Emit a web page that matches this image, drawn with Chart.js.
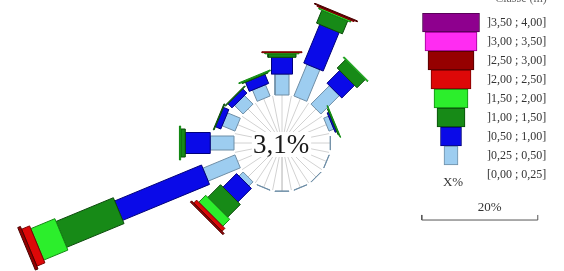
<!DOCTYPE html>
<html lang="fr">
<head>
    <meta charset="UTF-8">
    <title>Rose des hauteurs</title>
    <script src="https://cdn.jsdelivr.net/npm/chart.js"></script>
    <style>
        body { margin: 0; background: #fff; }
        #wrap { position: relative; width: 564px; height: 271px; }
        #rose { position: absolute; left: 0; top: 0; }
        #leg { position: absolute; left: 400px; top: 0; }
    </style>
</head>
<body>
<div id="wrap">
    <canvas id="rose" width="564" height="271"></canvas>
    <canvas id="leg" width="164" height="200"></canvas>
</div>
<script>
    // directions, clockwise from north
    const directions = ['N','NNE','NE','ENE','E','ESE','SE','SSE','S','SSW','SW','WSW','W','WNW','NW','NNW'];
    const calm = 3.1; // % in [0,00 ; 0,25]
    const calmLabel = '[0,00 ; 0,25]';
    const classLabels = [']0,25 ; 0,50]', ']0,50 ; 1,00]', ']1,00 ; 1,50]', ']1,50 ; 2,00]',
                         ']2,00 ; 2,50]', ']2,50 ; 3,00]', ']3,00 ; 3,50]', ']3,50 ; 4,00]'];

    // frequency (%) per direction for each class
    const h025_050 = [3.6, 5.9, 4.5, 0.9, 0.1, 0.05, 0.05, 0.05, 0.05, 0.05, 1.0, 6.0, 4.1, 2.4, 2.1, 2.1];
    const h050_100 = [2.9, 7.2, 3.1, 0.3, 0, 0, 0, 0, 0, 0, 3.3, 16.2, 4.3, 1.0, 1.0, 1.7];
    const h100_150 = [0.6, 2.4, 2.0, 0.15, 0, 0, 0, 0, 0, 0, 3.1, 10.7, 0.8, 0.15, 0.15, 0.2];
    const h150_200 = [0.2, 0.3, 0.2, 0.1, 0, 0, 0, 0, 0, 0, 1.7, 4.5, 0.2, 0, 0, 0.15];
    const h200_250 = [0.15, 0.2, 0, 0, 0, 0, 0, 0, 0, 0, 0.7, 1.5, 0, 0, 0, 0];
    const h250_300 = [0, 0.15, 0, 0, 0, 0, 0, 0, 0, 0, 0.3, 0.5, 0, 0, 0, 0];
    const h300_350 = [0, 0, 0, 0, 0, 0, 0, 0, 0, 0, 0, 0, 0, 0, 0, 0];
    const h350_400 = [0, 0, 0, 0, 0, 0, 0, 0, 0, 0, 0, 0, 0, 0, 0, 0];
    const scaleBar = 20; // %

    const series = [h025_050, h050_100, h100_150, h150_200, h200_250, h250_300, h300_350, h350_400];

    // styles
    const fills = ['#9dcdf0', '#0a0ae8', '#178a17', '#2cee2c', '#dd0808', '#960000', '#ff2cf2', '#8e008e'];
    const edges = ['#6f8ea6', '#00007a', '#0a4a0a', '#138813', '#7a0000', '#4a0000', '#990090', '#4a004a'];
    const widthPx = [14, 21, 28, 34, 40, 46, 52, 57];
    const PX = 5.8;            // pixels per %
    const CALM_R = 48 / PX;    // calm circle radius
    const serif = "'Liberation Serif', 'Times New Roman', serif";

    const roseSets = [];
    // spokes of the calm circle
    for (let i = 0; i < 32; i++) {
        const a = i * 11.25 * Math.PI / 180;
        roseSets.push({
            data: [{x: 0, y: 0}, {x: CALM_R * Math.sin(a), y: CALM_R * Math.cos(a)}],
            showLine: true, fill: false, borderColor: '#d2d2d2', borderWidth: 1, pointRadius: 0, order: 100
        });
    }
    // stacked, widening segments
    directions.forEach((dir, d) => {
        const a = d * 22.5 * Math.PI / 180;
        const ux = Math.sin(a), uy = Math.cos(a);
        let r = CALM_R;
        series.forEach((vals, k) => {
            const v = vals[d];
            if (!v) return;
            const h = widthPx[k] / PX / 2;
            const r2 = r + v;
            const p1 = {x: r * ux + h * uy, y: r * uy - h * ux};
            roseSets.push({
                label: dir + ' ' + classLabels[k],
                data: [p1,
                       {x: r2 * ux + h * uy, y: r2 * uy - h * ux},
                       {x: r2 * ux - h * uy, y: r2 * uy + h * ux},
                       {x: r * ux - h * uy, y: r * uy + h * ux},
                       p1],
                showLine: true, fill: 'shape', tension: 0,
                backgroundColor: fills[k], borderColor: edges[k], borderWidth: 1,
                pointRadius: 0, order: 50 - k
            });
            r = r2;
        });
    });
    // 20 % scale bracket
    const barX = 24.1, barY = -13.28;
    roseSets.push({
        data: [{x: barX, y: barY + 0.87}, {x: barX, y: barY}, {x: barX + scaleBar, y: barY}, {x: barX + scaleBar, y: barY + 0.87}],
        showLine: true, fill: false, borderColor: '#555', borderWidth: 1, pointRadius: 0, order: 0
    });

    const roseText = {
        id: 'roseText',
        afterDatasetsDraw(chart) {
            const {ctx, scales: {x, y}} = chart;
            const cx = x.getPixelForValue(0), cy = y.getPixelForValue(0);
            const txt = String(calm).replace('.', ',') + '%';
            ctx.save();
            ctx.font = '27px ' + serif;
            const w = ctx.measureText(txt).width;
            ctx.fillStyle = '#fff';
            ctx.fillRect(cx - w / 2 - 2, cy - 11, w + 3, 25);
            ctx.fillStyle = '#1a1a1a';
            ctx.textAlign = 'center';
            ctx.textBaseline = 'middle';
            ctx.fillText(txt, cx - 1, cy + 3);
            ctx.font = '13px ' + serif;
            ctx.fillStyle = '#333';
            ctx.fillText(scaleBar + '%', x.getPixelForValue(barX + scaleBar / 2) + 10, y.getPixelForValue(barY) - 12);
            ctx.restore();
        }
    };

    new Chart(document.getElementById('rose'), {
        type: 'scatter',
        data: {datasets: roseSets},
        options: {
            responsive: false,
            animation: false,
            events: [],
            layout: {padding: 0},
            plugins: {legend: {display: false}, tooltip: {enabled: false}},
            scales: {
                x: {display: false, min: -282 / PX, max: 282 / PX},
                y: {display: false, min: -128 / PX, max: 143 / PX}
            }
        },
        plugins: [roseText]
    });

    // legend: tapered stack of classes
    const legText = {
        id: 'legText',
        afterDraw(chart) {
            const {ctx, chartArea} = chart;
            ctx.save();
            ctx.fillStyle = '#333';
            ctx.textAlign = 'center';
            ctx.font = '13px ' + serif;
            ctx.textBaseline = 'middle';
            const mid = (chartArea.left + chartArea.right) / 2;
            const yCalm = chart.scales.y.getPixelForValue(8);
            ctx.fillText('X%', mid + 2, yCalm + 8);
            ctx.font = '12px ' + serif;
            ctx.textBaseline = 'alphabetic';
            ctx.fillStyle = '#666';
            ctx.fillText('Classe (m)', 121, 2);
            ctx.restore();
        }
    };

    const revIdx = classLabels.map((_, i) => classLabels.length - 1 - i);
    new Chart(document.getElementById('leg'), {
        type: 'bar',
        data: {
            labels: revIdx.map(i => classLabels[i]).concat([calmLabel]),
            datasets: [{
                data: revIdx.map(i => [-widthPx[i] / 2, widthPx[i] / 2]).concat([null]),
                backgroundColor: revIdx.map(i => fills[i]),
                borderColor: revIdx.map(i => edges[i]),
                borderWidth: 1,
                borderSkipped: false,
                barPercentage: 1,
                categoryPercentage: 1
            }]
        },
        options: {
            indexAxis: 'y',
            responsive: false,
            animation: false,
            events: [],
            layout: {padding: {left: 19, top: 13, bottom: 16, right: 0}},
            plugins: {legend: {display: false}, tooltip: {enabled: false}},
            scales: {
                x: {display: false, min: -32, max: 32},
                y: {
                    position: 'right',
                    grid: {display: false, drawTicks: false},
                    border: {display: false},
                    ticks: {padding: 4, color: '#333', font: {family: serif, size: 12}},
                    afterFit(scale) { scale.width = 81; }
                }
            }
        },
        plugins: [legText]
    });
</script>
</body>
</html>
